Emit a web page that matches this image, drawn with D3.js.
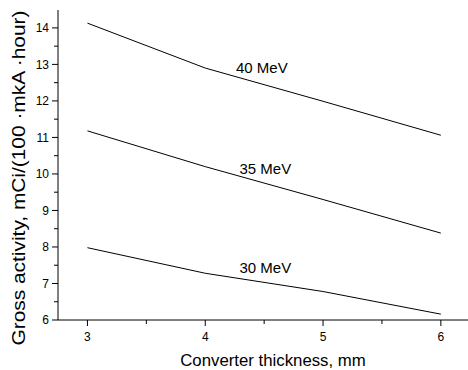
<!DOCTYPE html>
<html><head><meta charset="utf-8">
<script src="https://cdn.jsdelivr.net/npm/d3@7"></script>
<style>body{margin:0;background:#fff}svg{display:block}text{font-family:"Liberation Sans",Arial,sans-serif;fill:#000}</style>
</head><body>
<svg id="c" width="468" height="370"></svg>
<script>
const thickness = [3, 4, 5, 6];
const seriesNames = ["40 MeV", "35 MeV", "30 MeV"];
const act40 = [14.13, 12.90, 11.99, 11.06];
const act35 = [11.18, 10.20, 9.30, 8.38];
const act30 = [7.98, 7.28, 6.78, 6.16];
const xTicks = [3, 4, 5, 6];
const yTicks = [6, 7, 8, 9, 10, 11, 12, 13, 14];
const labelAt = [[4.48, 12.76], [4.51, 10.0], [4.51, 7.29]];

const svg = d3.select("#c");
const x = d3.scaleLinear().domain([2.75, 6.25]).range([58, 470.3]);
const y = d3.scaleLinear().domain([6, 14.49]).range([320, 10]);

// axes
const yAxis = svg.append("g").attr("transform", "translate(58,0)");
yAxis.append("line").attr("x1", 0).attr("x2", 0).attr("y1", y(14.49)).attr("y2", y(6)).attr("stroke", "#000");
d3.range(6, 14.5, 0.5).forEach(v => {
  const major = Number.isInteger(v);
  yAxis.append("line").attr("x1", major ? -6 : -4).attr("x2", 0).attr("y1", y(v)).attr("y2", y(v)).attr("stroke", "#000");
});
yTicks.forEach(v => {
  yAxis.append("text").attr("x", -9).attr("y", y(v)).attr("dy", "0.35em").attr("text-anchor", "end").attr("font-size", 12).text(v);
});

const xAxis = svg.append("g").attr("transform", "translate(0,320)");
xAxis.append("line").attr("x1", x(2.75)).attr("x2", 468).attr("y1", 0).attr("y2", 0).attr("stroke", "#000");
d3.range(3, 6.5, 0.5).forEach(v => {
  const major = Number.isInteger(v);
  xAxis.append("line").attr("x1", x(v)).attr("x2", x(v)).attr("y1", 0).attr("y2", major ? 6 : 4).attr("stroke", "#000");
});
xTicks.forEach(v => {
  xAxis.append("text").attr("x", x(v)).attr("y", 21).attr("text-anchor", "middle").attr("font-size", 12).text(v);
});

svg.append("text").attr("x", 273).attr("y", 366).attr("text-anchor", "middle").attr("font-size", 16.8).text("Converter thickness, mm");
svg.append("text").attr("transform", "translate(25,178) rotate(-90)").attr("text-anchor", "middle").attr("font-size", 18.5)
  .attr("textLength", 335).attr("lengthAdjust", "spacingAndGlyphs")
  .text("Gross activity, mCi/(100 \u00B7mkA \u00B7hour)");

const line = d3.line().x((d, i) => x(thickness[i])).y(d => y(d));
[act40, act35, act30].forEach((s, k) => {
  svg.append("path").attr("d", line(s)).attr("fill", "none").attr("stroke", "#000").attr("stroke-width", 1);
  svg.append("text").attr("x", x(labelAt[k][0])).attr("y", y(labelAt[k][1])).attr("text-anchor", "middle").attr("font-size", 15).text(seriesNames[k]);
});
</script>
</body></html>
